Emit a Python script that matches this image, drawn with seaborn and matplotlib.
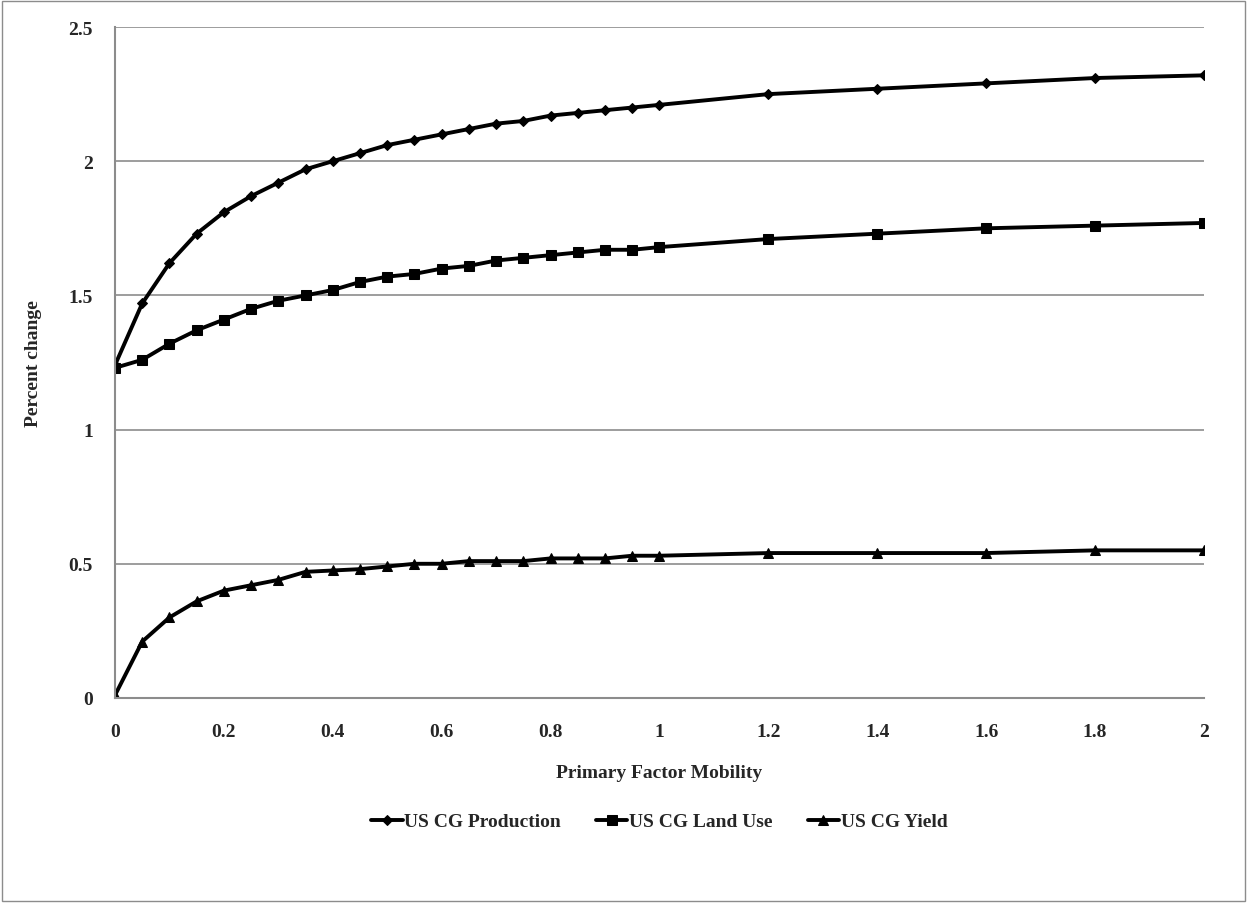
"""Percent change vs primary factor mobility"""
import pandas as pd
import matplotlib.pyplot as plt
import seaborn as sns
from matplotlib.patches import Rectangle

mobility = [0, 0.05, 0.1, 0.15, 0.2, 0.25, 0.3, 0.35, 0.4, 0.45, 0.5, 0.55, 0.6,
            0.65, 0.7, 0.75, 0.8, 0.85, 0.9, 0.95, 1.0, 1.2, 1.4, 1.6, 1.8, 2.0]
production = [1.24, 1.47, 1.62, 1.73, 1.81, 1.87, 1.92, 1.97, 2.00, 2.03, 2.06, 2.08, 2.10,
              2.12, 2.14, 2.15, 2.17, 2.18, 2.19, 2.20, 2.21, 2.25, 2.27, 2.29, 2.31, 2.32]
land_use = [1.23, 1.26, 1.32, 1.37, 1.41, 1.45, 1.48, 1.50, 1.52, 1.55, 1.57, 1.58, 1.60,
            1.61, 1.63, 1.64, 1.65, 1.66, 1.67, 1.67, 1.68, 1.71, 1.73, 1.75, 1.76, 1.77]
yield_ = [0.01, 0.21, 0.30, 0.36, 0.40, 0.42, 0.44, 0.47, 0.475, 0.48, 0.49, 0.50, 0.50,
          0.51, 0.51, 0.51, 0.52, 0.52, 0.52, 0.53, 0.53, 0.54, 0.54, 0.54, 0.55, 0.55]

series = {
    'US CG Production': (production, 'D', 5.5),
    'US CG Land Use': (land_use, 's', 7),
    'US CG Yield': (yield_, '^', 7),
}
xticks = [0, 0.2, 0.4, 0.6, 0.8, 1, 1.2, 1.4, 1.6, 1.8, 2]
yticks = [0, 0.5, 1, 1.5, 2, 2.5]

sns.set_style("white")
plt.rcParams['font.family'] = ['Liberation Serif', 'DejaVu Serif']

fig = plt.figure(figsize=(12.47, 9.04), dpi=100)
ax = fig.add_axes([0.0922, 0.2268, 0.8733, 0.7422])

for name, (vals, mk, ms) in series.items():
    df = pd.DataFrame({'x': mobility, 'y': vals})
    sns.lineplot(data=df, x='x', y='y', ax=ax, color='black', linewidth=2.8,
                 marker=mk, markersize=ms, markeredgecolor='black', label=name)

ax.set_xlim(0, 2)
ax.set_ylim(0, 2.5)
ax.set_xticks(xticks)
ax.set_xticklabels([f'{t:g}' for t in xticks], fontweight='bold')
ax.set_yticks(yticks)
ax.set_yticklabels([f'{t:g}' for t in yticks], fontweight='bold')
ax.yaxis.grid(True, color='#8c8c8c', linewidth=1.2)
ax.set_axisbelow(True)
for s in ['top', 'right']:
    ax.spines[s].set_visible(False)
for s in ['left', 'bottom']:
    ax.spines[s].set_color('#8c8c8c')
    ax.spines[s].set_linewidth(1.5)
ax.tick_params(axis='x', direction='out', length=6, color='#8c8c8c', width=1,
               labelsize=14, pad=12)
ax.tick_params(axis='y', direction='out', length=8, color='#8c8c8c', width=1.2,
               labelsize=14, pad=8)

ax.set_xlabel('Primary Factor Mobility', fontsize=14, fontweight='bold', labelpad=17)
ax.set_ylabel('Percent change', fontsize=14, fontweight='bold')
ax.yaxis.set_label_coords(-0.067, 0.5)

ax.legend(loc='upper center', bbox_to_anchor=(0.5, -0.145), ncol=3, frameon=False,
          handlelength=1.6, handletextpad=0.1, columnspacing=1.8,
          prop={'weight': 'bold', 'size': 14})

fig.patches.append(Rectangle((0.002, 0.002), 0.996, 0.996, transform=fig.transFigure,
                             fill=False, edgecolor='#8c8c8c', linewidth=1))

fig.savefig('out.png', dpi=100, facecolor='white')
